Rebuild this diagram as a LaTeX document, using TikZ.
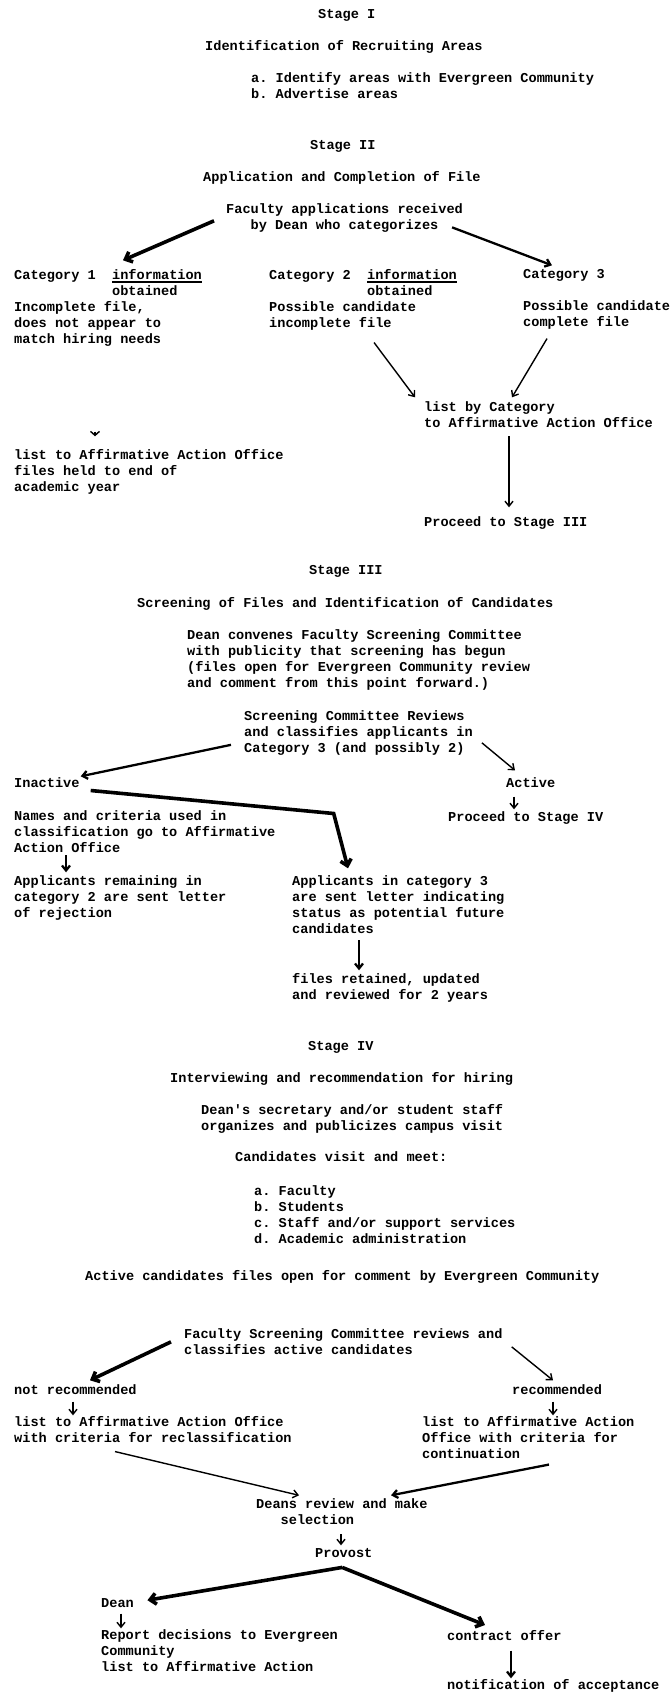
\documentclass[tikz,border=0pt]{standalone}
\usepackage{fontspec}
\setmonofont{Liberation Mono}
\usetikzlibrary{arrows.meta}
\newcommand\infoline{\rlap{\rule[-3pt]{89.6pt}{1.6pt}}information}
\tikzset{every node/.style={anchor=north west, inner sep=0pt, align=left, yshift=7.7pt,
    font=\ttfamily\bfseries\fontsize{13.6}{16}\selectfont,
    execute at begin node=\strut, execute at end node=\strut},
  link/.style={-{Straight Barb[length=5pt,width=8pt]}, line width=1.4pt},
  midlink/.style={link, line width=2.3pt},
  heavylink/.style={-{Straight Barb[length=6pt,width=11pt]}, line width=3.6pt}}
\begin{document}
\begin{tikzpicture}[x=1pt,y=-1pt]
   \useasboundingbox[fill=white] (0,0) rectangle (670,1692);
   \node (st1) at (318,15) {Stage I};
   \node (ident) at (205,47) {Identification of Recruiting Areas};
   \node (areas) at (251,80) {a. Identify areas with Evergreen Community\\b. Advertise areas};
   \node (st2) at (310,146) {Stage II};
   \node (appl) at (203,178) {Application and Completion of File};
   \node (recv) at (226,211) {Faculty applications received\\\phantom{Fac}by Dean who categorizes};
   \node (cat1) at (14,277) {Category 1~~\infoline\\\phantom{Category 1~~}obtained\\Incomplete file,\\does not appear to\\match hiring needs};
   \node (cat2) at (269,277) {Category 2~~\infoline\\\phantom{Category 2~~}obtained\\Possible candidate\\incomplete file};
   \node (cat3) at (523,277) {Category 3\\[16pt]Possible candidate\\complete file};
   \node (bycat) at (424,409) {list by Category\\to Affirmative Action Office};
   \node (held) at (14,457) {list to Affirmative Action Office\\files held to end of\\academic year};
   \node (proc3) at (424,523) {Proceed to Stage III};
   \node (st3) at (309,571) {Stage III};
   \node (scrn) at (137,604) {Screening of Files and Identification of Candidates};
   \node (conv) at (187,637) {Dean convenes Faculty Screening Committee\\with publicity that screening has begun\\(files open for Evergreen Community review\\and comment from this point forward.)};
   \node (rev) at (244,718) {Screening Committee Reviews\\and classifies applicants in\\Category 3 (and possibly 2)};
   \node (inact) at (14,784) {Inactive};
   \node (act) at (506,784) {Active};
   \node (proc4) at (448,818) {Proceed to Stage IV};
   \node (names) at (14,818) {Names and criteria used in\\classification go to Affirmative\\Action Office};
   \node (rej) at (14,883) {Applicants remaining in\\category 2 are sent letter\\of rejection};
   \node (fut) at (292,883) {Applicants in category 3\\are sent letter indicating\\status as potential future\\candidates};
   \node (kept) at (292,981) {files retained, updated\\and reviewed for 2 years};
   \node (st4) at (308,1047) {Stage IV};
   \node (intv) at (170,1079) {Interviewing and recommendation for hiring};
   \node (secr) at (201,1112) {Dean's secretary and/or student staff\\organizes and publicizes campus visit};
   \node (visit) at (235,1158) {Candidates visit and meet:};
   \node (meet) at (254,1193) {a. Faculty\\b. Students\\c. Staff and/or support services\\d. Academic administration};
   \node (open) at (85,1277) {Active candidates files open for comment by Evergreen Community};
   \node (fsc) at (184,1336) {Faculty Screening Committee reviews and\\classifies active candidates};
   \node (notrec) at (14,1391) {not recommended};
   \node (rec) at (512,1391) {recommended};
   \node (recl) at (14,1424) {list to Affirmative Action Office\\with criteria for reclassification};
   \node (cont) at (422,1424) {list to Affirmative Action\\Office with criteria for\\continuation};
   \node (deans) at (256,1506) {Deans review and make\\\phantom{Dea}selection};
   \node (prov) at (315,1554) {Provost};
   \node (dean) at (101,1604) {Dean};
   \node (report) at (101,1637) {Report decisions to Evergreen\\Community\\list to Affirmative Action};
   \node (offer) at (447,1637) {contract offer};
   \node (accept) at (447,1686) {notification of acceptance};
   \draw[heavylink] ([shift={(-12,2)}]recv.west) -- ([shift={(109,-9)}]cat1.north west);
   \draw[midlink] ([shift={(-11,-7)}]recv.south east) -- ([shift={(29,-4)}]cat3.north west);
   \draw[link] ([shift={(11,10)}]cat2.south) -- ([shift={(-9,-4)}]bycat.north west);
   \draw[link] ([shift={(24,7)}]cat3.south west) -- ([shift={(88,-4)}]bycat.north west);
   \draw[link,-{Straight Barb[length=4pt,width=9pt]}] ([shift={(81,83)}]cat1.south west) -- ([shift={(81,-13)}]held.north west);
   \draw[link] ([shift={(85,4)}]bycat.south west) -- ([shift={(85,-8)}]proc3.north west);
   \draw[midlink] ([shift={(-13,11)}]rev.west) -- ([shift={(1,0)}]inact.north east);
   \draw[link] ([shift={(9,9)}]rev.east) -- ([shift={(9,-6)}]act.north west);
   \draw[link] ([shift={(8,4)}]act.south west) -- ([shift={(66,-1)}]proc4.north west);
   \draw[heavylink] ([shift={(11,6)}]inact.east) -- ++(243,23) -- ([shift={(56,-7)}]fut.north west);
   \draw[midlink] ([shift={(52,-2)}]names.south west) -- ([shift={(52,-3)}]rej.north west);
   \draw[midlink] ([shift={(67,2)}]fut.south west) -- ([shift={(67,-3)}]kept.north west);
   \draw[heavylink] ([shift={(-13,-2)}]fsc.west) -- ([shift={(76,-3)}]notrec.north west);
   \draw[link] ([shift={(9,3)}]fsc.east) -- ([shift={(41,-3)}]rec.north west);
   \draw[link] ([shift={(59,2)}]notrec.south west) -- ([shift={(59,-1)}]recl.north west);
   \draw[link] ([shift={(41,2)}]rec.south west) -- ([shift={(131,-1)}]cont.north west);
   \draw[link] ([shift={(101,4)}]recl.south west) -- ([shift={(43,-3)}]deans.north west);
   \draw[midlink] ([shift={(127,1)}]cont.south west) -- ([shift={(135,-3)}]deans.north west);
   \draw[link] ([shift={(85,5)}]deans.south west) -- ([shift={(26,-1)}]prov.north west);
   \draw[heavylink] ([shift={(-1.6,4.7)}]prov.south) -- ([shift={(13.4,-4.3)}]dean.east);
   \draw[heavylink] ([shift={(-1.6,4.7)}]prov.south) -- ([shift={(38,-4.3)}]offer.north west);
   \draw[link] ([shift={(20,1)}]dean.south west) -- ([shift={(20,-1)}]report.north west);
   \draw[midlink] ([shift={(64,5)}]offer.south west) -- ([shift={(64,0)}]accept.north west);
\end{tikzpicture}
\end{document}
